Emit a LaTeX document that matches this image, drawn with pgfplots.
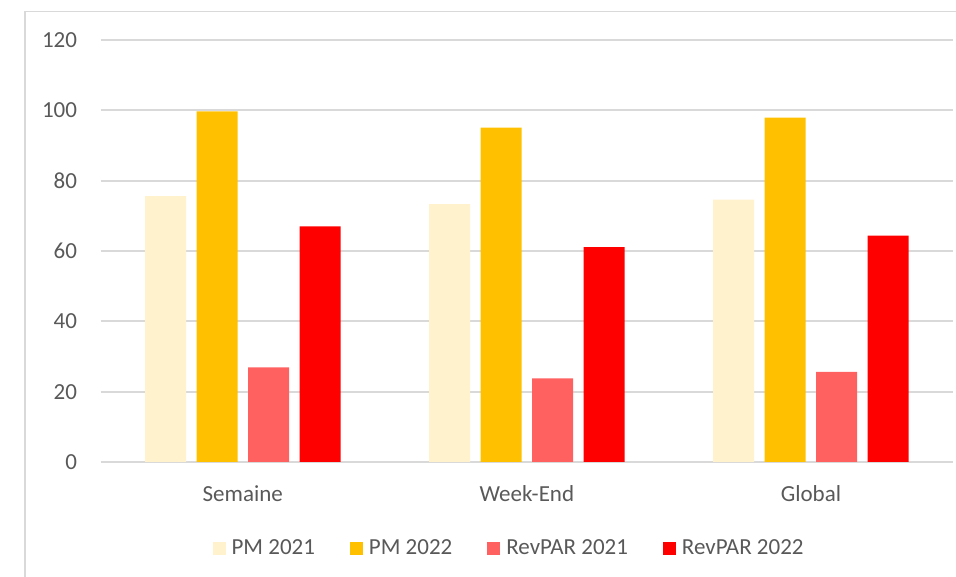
\documentclass[border=0pt]{standalone}
\usepackage{fontspec}
\setmainfont{Carlito}
\usepackage{pgfplots}
\pgfplotsset{compat=1.18}
\definecolor{pmA}{HTML}{FFF2CC}
\definecolor{pmB}{HTML}{FFC000}
\definecolor{rvA}{HTML}{FF6161}
\definecolor{rvB}{HTML}{FF0000}
\definecolor{txt}{HTML}{595959}
\definecolor{grd}{HTML}{D9D9D9}
\newcommand{\chartfont}{\fontsize{23bp}{27bp}\selectfont}
\begin{document}
\begin{tikzpicture}
\useasboundingbox (0,0) rectangle (956bp,577bp);
\draw[grd, line width=1.6bp] (25bp,0) -- (25bp,565.5bp) -- (956bp,565.5bp);
\begin{axis}[
  at={(100.7bp,115bp)}, anchor=south west,
  scale only axis, width=852.3bp, height=422bp,
  ymin=0, ymax=120, xmin=-0.5, xmax=2.5,
  ytick={0,20,...,120}, xtick={0,1,2},
  xticklabels={Semaine,Week-End,Global},
  axis line style={draw=none}, major tick length=0pt,
  ymajorgrids, grid style={grd, line width=1.7bp},
  /pgf/number format/assume math mode=true,
  ybar, bar width=41bp,
  yticklabel style={font=\chartfont, text=txt, anchor=east, inner sep=0pt, xshift=-23.5bp},
  xticklabel style={font=\chartfont, text=txt, anchor=base, inner sep=0pt, yshift=-39.7bp},
  legend style={draw=none, font=\chartfont, text=txt, at={(0.478,-0.204)}, anchor=center,
    legend columns=4, nodes={inner sep=0pt},
    /tikz/every odd column/.append style={column sep=6bp},
    /tikz/every even column/.append style={column sep=35bp}},
  legend image code/.code={\fill[#1] (0bp,-6.5bp) rectangle (13bp,6.5bp);},
]
\addplot[fill=pmA, draw=none, bar shift=-77.25bp] coordinates {(0,75.6) (1,73.3) (2,74.6)};
\addplot[fill=pmB, draw=none, bar shift=-25.75bp] coordinates {(0,99.7) (1,95.1) (2,97.9)};
\addplot[fill=rvA, draw=none, bar shift=25.75bp] coordinates {(0,26.9) (1,23.8) (2,25.6)};
\addplot[fill=rvB, draw=none, bar shift=77.25bp] coordinates {(0,67.0) (1,61.1) (2,64.4)};
\legend{PM 2021, PM 2022, RevPAR 2021, RevPAR 2022}
\end{axis}
\end{tikzpicture}
\end{document}
